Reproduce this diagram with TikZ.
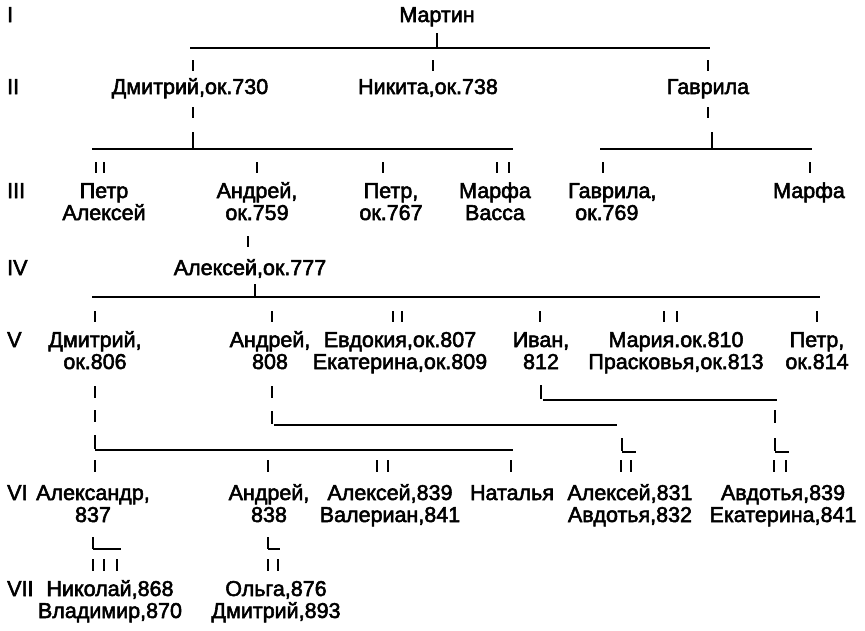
\documentclass[tikz,border=0pt]{standalone}
\usepackage{fontspec}
\setmainfont{Liberation Sans}[FakeBold=2.5]
\begin{document}
\begin{tikzpicture}[x=1pt,y=-1pt,
  nm/.style={inner sep=0pt,anchor=base,align=center,font=\fontsize{21.5}{22}\selectfont},
  lvl/.style={inner sep=0pt,anchor=base west,font=\fontsize{21.5}{22}\selectfont},
  tk/.style={line width=2.8pt},
  hl/.style={line width=1.8pt}]
\useasboundingbox (0,0) rectangle (865,630);
% level labels
\node[lvl] (l1) at (7,22) {I};
\node[lvl] (l2) at (7,94) {II};
\node[lvl] (l3) at (7,198) {III};
\node[lvl] (l4) at (7,275) {IV};
\node[lvl] (l5) at (7,347) {V};
\node[lvl] (l6) at (7,500) {VI};
\node[lvl] (l7) at (7,596) {VII};
% generation I
\node[nm] (martin) at (437,22) {Мартин};
\draw[tk] (437,33) -- (437,47);
\draw[hl] (190,48) -- (710,48);
\draw[tk] (193,60) -- (193,71);
\draw[tk] (433,60) -- (433,71);
\draw[tk] (708,60) -- (708,71);
% generation II
\node[nm] (dm730) at (190,94) {Дмитрий,ок.730};
\node[nm] (nik) at (428,94) {Никита,ок.738};
\node[nm] (gav) at (708,94) {Гаврила};
\draw[tk] (193,107) -- (193,118);
\draw[tk] (193,132) -- (193,148);
\draw[hl] (92,149) -- (513,149);
\draw[tk] (708,107) -- (708,118);
\draw[tk] (712,132) -- (712,148);
\draw[hl] (600,149) -- (812,149);
% generation III (second-line baselines)
\foreach \x in {96,104,257,383,497,509,603,810} \draw[tk] (\x,162) -- (\x,173);
\node[nm] (pa) at (104,220) {Петр\\Алексей};
\node[nm] (an759) at (257,220) {Андрей,\\ок.759};
\node[nm] (pe767) at (391,220) {Петр,\\ок.767};
\node[nm] (mv) at (495,220) {Марфа\\Васса};
\node[nm,anchor=base west,align=left] (ga769) at (568,220) {Гаврила,\\\hspace*{7pt}ок.769};
\node[nm] (mar) at (809,198) {Марфа};
\draw[tk] (248,236) -- (248,247);
% generation IV
\node[nm] (al777) at (250,275) {Алексей,ок.777};
\draw[tk] (255,284) -- (255,296);
\draw[hl] (92,297) -- (820,297);
% generation V
\foreach \x in {95,272,393,402,540,664,677,817} \draw[tk] (\x,311) -- (\x,322);
\node[nm] (dm806) at (95,369) {Дмитрий,\\ок.806};
\node[nm] (an808) at (270,369) {Андрей,\\808};
\node[nm] (ee) at (400,369) {Евдокия,ок.807\\Екатерина,ок.809};
\node[nm] (iv812) at (541,369) {Иван,\\812};
\node[nm] (mp) at (676,369) {Мария.ок.810\\Прасковья,ок.813};
\node[nm] (pe814) at (817,369) {Петр,\\ок.814};
% below Dmitrii 806
\draw[tk] (95,386) -- (95,398);
\draw[tk] (95,410) -- (95,422);
\draw[tk] (95,435) -- (95,449);
\draw[hl] (95,450) -- (513,450);
% below Andrei 808
\draw[tk] (272,386) -- (272,398);
\draw[tk] (272,411) -- (272,424);
\draw[hl] (274,425) -- (617,425);
\draw[tk] (622,438) -- (622,451);
\draw[hl] (622,452) -- (636,452);
% below Ivan 812
\draw[tk] (541,385) -- (541,399);
\draw[hl] (543,400) -- (777,400);
\draw[tk] (775,410) -- (775,423);
\draw[tk] (775,438) -- (775,451);
\draw[hl] (775,452) -- (789,452);
% generation VI
\foreach \x in {95,268,377,388,511,621,631,774,786} \draw[tk] (\x,460) -- (\x,472);
\node[nm] (al837) at (93,522) {Александр,\\837};
\node[nm] (an838) at (269,522) {Андрей,\\838};
\node[nm] (av) at (390,522) {Алексей,839\\Валериан,841};
\node[nm] (nat) at (512,500) {Наталья};
\node[nm] (aa) at (630,522) {Алексей,831\\Авдотья,832};
\node[nm] (ae) at (783,522) {Авдотья,839\\Екатерина,841};
% below Aleksandr 837
\draw[tk] (93,537) -- (93,549);
\draw[hl] (93,549) -- (121,549);
\foreach \x in {93,104,117} \draw[tk] (\x,559) -- (\x,571);
% below Andrei 838
\draw[tk] (268,537) -- (268,549);
\draw[hl] (268,549) -- (280,549);
\foreach \x in {268,278} \draw[tk] (\x,559) -- (\x,571);
% generation VII
\node[nm] (nv) at (110,618) {Николай,868\\Владимир,870};
\node[nm] (od) at (276,618) {Ольга,876\\Дмитрий,893};
\end{tikzpicture}
\end{document}
